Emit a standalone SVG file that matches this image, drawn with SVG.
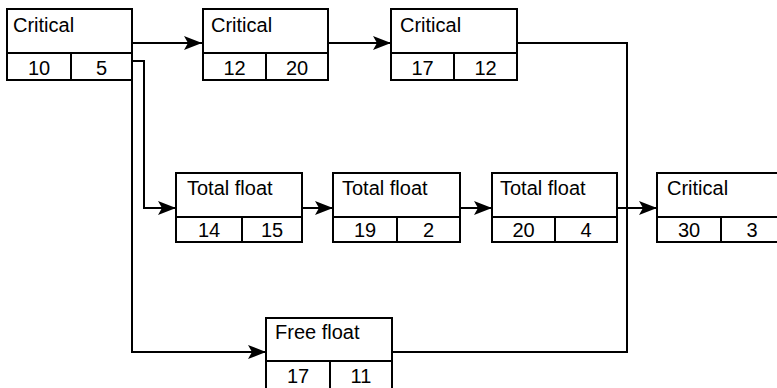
<svg xmlns="http://www.w3.org/2000/svg" width="777" height="388" viewBox="0 0 777 388">
<defs>
<marker id="ah" markerUnits="userSpaceOnUse" markerWidth="20" markerHeight="16" refX="18" refY="8" orient="auto">
<path d="M0,1 L18,8 L0,15 L4,8 Z" fill="#000"/>
</marker>
<style>
.box{fill:#fff;stroke:#000;stroke-width:2}
.ln{fill:none;stroke:#000;stroke-width:2}
.c{fill:none;stroke:#000;stroke-width:2}
text{font-family:"Liberation Sans",Arial,sans-serif;font-size:20px;fill:#000}
.n{text-anchor:middle}
</style>
</defs>
<rect width="777" height="388" fill="#fff"/>
<g id="connectors">
<path class="c" d="M132,43 H202" marker-end="url(#ah)"/>
<path class="c" d="M132,43 V352 H266" marker-end="url(#ah)"/>
<path class="c" d="M132,61 H144 V208 H176" marker-end="url(#ah)"/>
<path class="c" d="M328,43 H391" marker-end="url(#ah)"/>
<path class="c" d="M517,43 H627 V352 H392"/>
<path class="c" d="M302,208 H333" marker-end="url(#ah)"/>
<path class="c" d="M460,208 H492" marker-end="url(#ah)"/>
<path class="c" d="M617,208 H657" marker-end="url(#ah)"/>
</g>
<g id="n1">
<rect class="box" x="7" y="9" width="125" height="71"/>
<path class="ln" d="M7,53 H132 M71,53 V80"/>
<text x="13" y="32">Critical</text>
<text class="n" x="39" y="75">10</text>
<text class="n" x="101.5" y="75">5</text>
</g>
<g id="n2">
<rect class="box" x="203" y="9" width="125" height="71"/>
<path class="ln" d="M203,53 H328 M266,53 V80"/>
<text x="211" y="32">Critical</text>
<text class="n" x="234.5" y="75">12</text>
<text class="n" x="297" y="75">20</text>
</g>
<g id="n3">
<rect class="box" x="391" y="9" width="126" height="71"/>
<path class="ln" d="M391,53 H517 M454,53 V80"/>
<text x="400" y="32">Critical</text>
<text class="n" x="422.5" y="75">17</text>
<text class="n" x="485.5" y="75">12</text>
</g>
<g id="n4">
<rect class="box" x="176" y="173" width="126" height="69"/>
<path class="ln" d="M176,217 H302 M242,217 V242"/>
<text x="187" y="195">Total float</text>
<text class="n" x="209" y="237">14</text>
<text class="n" x="272" y="237">15</text>
</g>
<g id="n5">
<rect class="box" x="333" y="173" width="127" height="69"/>
<path class="ln" d="M333,217 H460 M397,217 V242"/>
<text x="342" y="195">Total float</text>
<text class="n" x="365" y="237">19</text>
<text class="n" x="428.5" y="237">2</text>
</g>
<g id="n6">
<rect class="box" x="492" y="173" width="125" height="69"/>
<path class="ln" d="M492,217 H617 M555,217 V242"/>
<text x="500" y="195">Total float</text>
<text class="n" x="523.5" y="237">20</text>
<text class="n" x="586" y="237">4</text>
</g>
<g id="n7">
<rect class="box" x="657" y="173" width="140" height="69"/>
<path class="ln" d="M657,217 H797 M721,217 V242"/>
<text x="667" y="195">Critical</text>
<text class="n" x="689" y="237">30</text>
<text class="n" x="752" y="237">3</text>
</g>
<g id="n8">
<rect class="box" x="266" y="318" width="126" height="80"/>
<path class="ln" d="M266,361 H392 M330,361 V398"/>
<text x="275" y="339">Free float</text>
<text class="n" x="298" y="383">17</text>
<text class="n" x="361" y="383">11</text>
</g>
</svg>
